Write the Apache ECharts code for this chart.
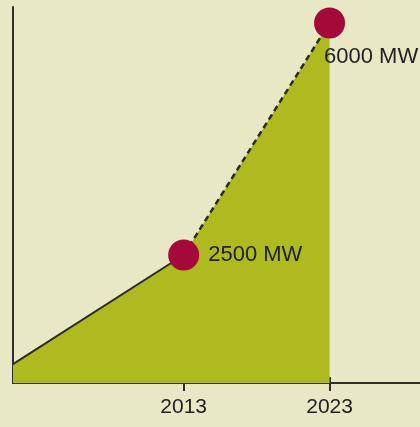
<!DOCTYPE html>
<html><head><meta charset="utf-8">
<script src="https://cdn.jsdelivr.net/npm/echarts@6/dist/echarts.min.js"></script>
<style>html,body{margin:0;padding:0;background:#E8E8C6;}#c{width:420px;height:427px;}</style>
</head><body><div id="c"></div>
<script>
const years = [2001.3, 2013, 2023];
const capacityMW = [855, 2500, 6000];
const tickYears = [2013, 2023];
const pointLabels = ['2500 MW', '6000 MW'];

const X_MIN = 2001.3, X_MAX = 2029.2, Y_MIN = 570, Y_MAX = 6240;
const all = years.map((y, i) => [y, capacityMW[i]]);
const solid = all.slice(0, 2);
const dashed = all.slice(1, 3);
const pts = all.slice(1).map((d, i) => ({value: d, label: pointLabels[i]}));

const chart = echarts.init(document.getElementById('c'));
const axisBase = {type: 'value', min: X_MIN, max: X_MAX, splitLine: {show: false}};
chart.setOption({
  backgroundColor: '#E8E8C6',
  animation: false,
  grid: {left: 13, right: 0, top: 7, bottom: 44},
  xAxis: [
    Object.assign({}, axisBase, {
      position: 'bottom',
      axisLine: {show: true, lineStyle: {color: '#2e2e2a', width: 2}},
      axisTick: {show: true, customValues: tickYears, length: 8, lineStyle: {color: '#2e2e2a', width: 2}},
      axisLabel: {show: true, customValues: tickYears, margin: 14, fontSize: 21, color: '#222',
        fontFamily: 'Liberation Sans, Arial, sans-serif', formatter: v => String(Math.round(v))}
    }),
    Object.assign({}, axisBase, {
      position: 'bottom',
      axisLine: {show: false},
      axisTick: {show: true, inside: true, customValues: tickYears, length: 6, lineStyle: {color: '#2e2e2a', width: 2}},
      axisLabel: {show: false}
    })
  ],
  yAxis: {
    type: 'value', min: Y_MIN, max: Y_MAX,
    axisLine: {show: true, lineStyle: {color: '#2e2e2a', width: 2}},
    axisTick: {show: false}, axisLabel: {show: false}, splitLine: {show: false}
  },
  series: [
    {type: 'line', data: all, symbol: 'none', lineStyle: {width: 0},
      areaStyle: {color: '#AEBA1F', opacity: 1, origin: 'start'}, z: 1},
    {type: 'line', data: solid, symbol: 'none', lineStyle: {color: '#2b2b28', width: 2}, z: 2},
    {type: 'line', data: dashed, symbol: 'none', lineStyle: {color: '#2b2b28', width: 2.5, type: [6, 4]}, z: 2},
    {type: 'scatter', data: pts, symbol: 'circle', symbolSize: 31, z: 3,
      itemStyle: {color: '#A30A3A', opacity: 1},
      label: {show: true, position: 'right', distance: 9, fontSize: 22, color: '#222',
        fontFamily: 'Liberation Sans, Arial, sans-serif',
        formatter: p => p.data.label},
      labelLayout: p => p.dataIndex === 1 ? {dx: -30, dy: 34} : {}
    }
  ]
});
</script></body></html>
